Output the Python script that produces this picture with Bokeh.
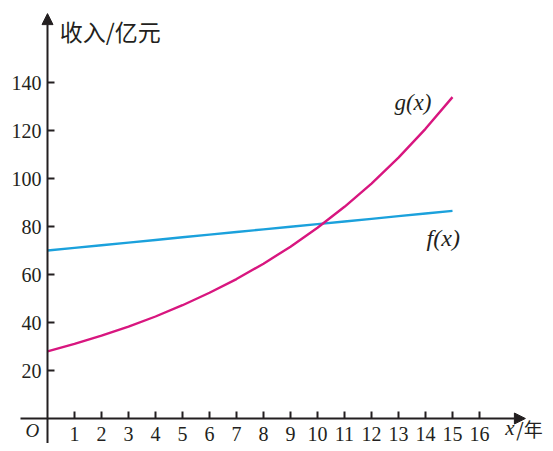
from bokeh.plotting import figure
from bokeh.models import Range1d, FixedTicker, Arrow, NormalHead, Label
from bokeh.embed import file_html
from bokeh.resources import INLINE

years = list(range(0, 16))
f_vals = [70.0, 71.1, 72.2, 73.3, 74.4, 75.5, 76.6, 77.7, 78.8, 79.9, 81.0, 82.1, 83.2, 84.3, 85.4, 86.5]
g_vals = [28.0, 31.1, 34.5, 38.3, 42.5, 47.2, 52.4, 58.1, 64.5, 71.6, 79.5, 88.2, 97.9, 108.7, 120.7, 133.9]
x_ticks = list(range(1, 17))
y_ticks = [20, 40, 60, 80, 100, 120, 140]

W, H = 545, 443
x0, y0 = 47.0, 418.0   # origin pixel inside figure
sx, sy = 27.0, 2.4
xr = Range1d(-x0 / sx, (W - x0) / sx)
yr = Range1d(-(H - y0) / sy, y0 / sy)

p = figure(width=W, height=H, x_range=xr, y_range=yr, output_backend="svg",
           toolbar_location=None, min_border=0, outline_line_color=None)
p.background_fill_color = "white"
p.grid.visible = False

serif = "Liberation Serif"
cjk = "Noto Sans CJK SC"
axcol = "#231f20"
for ax in (p.xaxis[0], p.yaxis[0]):
    ax.fixed_location = 0
    ax.axis_line_color = None
    ax.major_tick_out = 0
    ax.major_tick_in = 7
    ax.major_tick_line_color = axcol
    ax.major_tick_line_width = 2
    ax.minor_tick_line_color = None
    ax.major_label_text_font = serif
    ax.major_label_text_font_size = "20px"
    ax.major_label_text_color = axcol
p.xaxis.ticker = FixedTicker(ticks=x_ticks)
p.yaxis.ticker = FixedTicker(ticks=y_ticks)
p.xaxis.major_label_standoff = 8
p.yaxis.major_label_standoff = 6

p.line(years, f_vals, line_color="#1ba1dc", line_width=2.4)
p.line(years, g_vals, line_color="#d8167f", line_width=2.4)

# axis lines with arrow heads
p.add_layout(Arrow(end=NormalHead(size=11, fill_color=axcol, line_color=axcol),
                   x_start=-1.0, y_start=0, x_end=17.7, y_end=0,
                   line_color=axcol, line_width=2))
p.add_layout(Arrow(end=NormalHead(size=11, fill_color=axcol, line_color=axcol),
                   x_start=0, y_start=-10.4, x_end=0, y_end=168.7,
                   line_color=axcol, line_width=2))

p.add_layout(Label(x=0.45, y=168.7, text="收入/亿元", text_font=cjk,
                   text_font_size="23px", text_color=axcol, text_baseline="top"))
p.add_layout(Label(x=16.95, y=-4.0, text="x", text_font=serif, text_font_style="italic",
                   text_font_size="21px", text_color=axcol, text_baseline="middle"))
p.add_layout(Label(x=17.36, y=-4.0, text="/年", text_font=cjk,
                   text_font_size="19px", text_color=axcol, text_baseline="middle"))
p.add_layout(Label(x=-0.56, y=-5.0, text="O", text_font=serif, text_font_style="italic",
                   text_font_size="19px", text_color=axcol, text_baseline="middle",
                   text_align="center"))
p.add_layout(Label(x=12.85, y=131.7, text="g(x)", text_font=serif, text_font_style="italic",
                   text_font_size="23px", text_color=axcol, text_baseline="middle"))
p.add_layout(Label(x=14.04, y=75.4, text="f(x)", text_font=serif, text_font_style="italic",
                   text_font_size="24px", text_color=axcol, text_baseline="middle"))

open("out.html", "w").write(file_html(p, INLINE))
